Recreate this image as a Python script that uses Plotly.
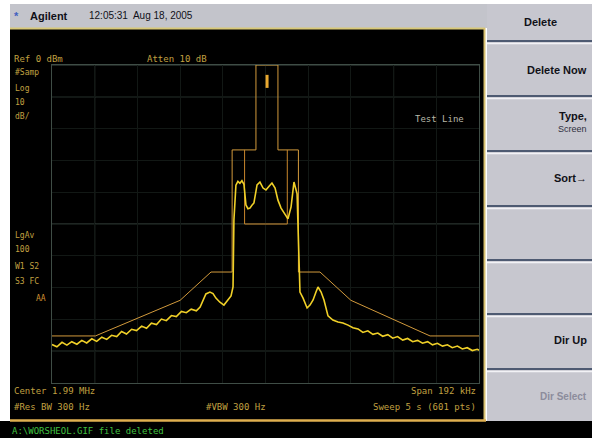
import plotly.graph_objects as go

# ---- measured trace: offset from centre (kHz) and level (dBm) ----
freq_khz = [-96.0, -93.8, -91.5, -89.3, -87.1, -84.8, -82.6, -80.4, -78.1, -75.9,
            -73.6, -71.4, -69.2, -66.9, -64.7, -62.5, -60.2, -58.0, -55.7, -53.5,
            -51.3, -49.0, -46.8, -44.6, -42.3, -40.1, -37.8, -35.6, -33.4, -31.1,
            -29.4, -28.1, -26.8, -25.0, -23.6, -22.3, -20.5, -18.7, -16.9, -15.5,
            -14.6, -14.2, -13.3, -12.4, -11.5, -10.6, -9.7, -8.8, -7.9, -7.0,
            -6.1, -5.2, -3.8, -2.5, -1.1, 0.2, 1.6, 2.9, 4.3, 5.6,
            7.0, 8.8, 10.1, 11.5, 12.8, 14.2, 15.1, 15.5, 16.9, 18.7,
            20.0, 21.4, 22.7, 23.6, 25.0, 26.3, 28.1, 30.3, 32.6, 34.8,
            37.1, 39.3, 41.6, 43.8, 46.0, 48.3, 50.5, 52.7, 55.0, 57.2,
            59.4, 61.7, 63.9, 66.2, 68.4, 70.6, 72.9, 75.1, 77.3, 79.6,
            81.8, 84.0, 86.3, 88.5, 90.7, 93.0, 95.2, 96.0]
level_dbm = [-87.9, -88.6, -87.2, -88.1, -87.0, -87.8, -86.6, -87.4, -86.1, -86.9,
             -85.6, -86.3, -85.0, -85.4, -83.8, -84.6, -83.1, -83.5, -82.1, -82.8,
             -81.2, -81.6, -79.9, -80.4, -78.8, -79.1, -77.5, -77.9, -76.8, -77.3,
             -76.1, -73.9, -72.0, -71.4, -71.9, -73.3, -74.6, -75.5, -74.0, -72.6,
             -69.8, -48.7, -37.8, -36.6, -37.2, -36.4, -37.5, -44.0, -45.2, -45.0,
             -44.1, -43.4, -37.7, -36.8, -38.7, -39.3, -38.1, -37.1, -38.7, -42.5,
             -45.0, -46.9, -48.4, -44.6, -36.8, -40.5, -59.8, -71.4, -73.3, -76.4,
             -75.5, -73.9, -71.4, -69.8, -71.4, -73.9, -78.9, -80.2, -80.8, -81.1,
             -81.8, -82.6, -83.0, -84.1, -83.6, -84.7, -84.3, -85.3, -84.8, -85.9,
             -85.4, -86.5, -86.0, -87.0, -86.6, -87.5, -87.0, -88.0, -87.5, -88.4,
             -88.0, -88.9, -88.4, -89.3, -88.9, -89.8, -89.4, -89.7]

# pilot carrier near the channel centre
pilot_khz = [0.7, 0.7]
pilot_dbm = [-3.1, -7.2]

# upper test line (spectrum mask)
mask_khz = [-96, -76.5, -38.4, -24.5, -15, -15, -4.3, -4.3, 5.6, 5.6,
            14.8, 14.8, 24.5, 38.4, 74, 96]
mask_dbm = [-85.2, -85.2, -74.0, -65.1, -65.1, -26.7, -26.7, 0, 0, -26.7,
            -26.7, -65.1, -65.1, -74.0, -85.2, -85.2]

# lower test line around the channel
lower_khz = [-9.4, -9.4, 9.8, 9.8]
lower_dbm = [-26.7, -50.0, -50.0, -26.7]

# softkey menu
softkeys = ["Delete", "Delete Now", "Type,", "Sort\u2192", "", "", "Dir Up", "Dir Select"]

# display settings
ref_dbm = 0
db_per_div = 10
span_khz = 192
center_label = "Center 1.99 MHz"
span_label = "Span 192 kHz"

W, H = 592, 438
L_PX, R_PX, T_PX, B_PX = 52, 479, 65, 383


def px(x):
    return (x - L_PX) / (R_PX - L_PX)


def py(y):
    return (B_PX - y) / (B_PX - T_PX)


fig = go.Figure()

fig.add_trace(go.Scatter(x=mask_khz, y=mask_dbm, mode="lines",
                         line=dict(color="#d29a3c", width=1), hoverinfo="skip"))
fig.add_trace(go.Scatter(x=lower_khz, y=lower_dbm, mode="lines",
                         line=dict(color="#c8862c", width=1), hoverinfo="skip"))
fig.add_trace(go.Scatter(x=freq_khz, y=level_dbm, mode="lines",
                         line=dict(color="#f0d028", width=1.6)))
fig.add_trace(go.Scatter(x=pilot_khz, y=pilot_dbm, mode="lines",
                         line=dict(color="#e8a830", width=3)))

shapes = []


def rect(x0, y0, x1, y1, color):
    shapes.append(dict(type="rect", xref="paper", yref="paper", layer="below",
                       x0=px(x0), x1=px(x1), y0=py(y1), y1=py(y0),
                       fillcolor=color, line=dict(width=0)))


def hline(x0, x1, y, color, w=1):
    shapes.append(dict(type="line", xref="paper", yref="paper", layer="below",
                       x0=px(x0), x1=px(x1), y0=py(y), y1=py(y),
                       line=dict(color=color, width=w)))


def vline(x, y0, y1, color, w=1):
    shapes.append(dict(type="line", xref="paper", yref="paper", layer="below",
                       x0=px(x), x1=px(x), y0=py(y0), y1=py(y1),
                       line=dict(color=color, width=w)))


# instrument chrome
rect(10, 28, 485, 421, "#000000")
rect(10, 4, 488, 28, "#c3c4cb")
hline(10, 485, 28.5, "#d8c878", 2)
vline(484.5, 28, 421, "#d8c070", 2)
rect(487, 4, 592, 421, "#c7c7cf")
rect(0, 421, 592, 438, "#000000")
hline(10, 486, 420.5, "#e0b050", 2.5)

# softkey separators
for yb in [41, 96, 151, 206, 260, 314, 369]:
    hline(487, 592, yb, "#4e5a72", 2)
    hline(487, 592, yb + 2.5, "#f2f2f6", 1.5)

# brighter graticule lines that stand out on the display
for yv in [0, -10, -50, -90]:
    shapes.append(dict(type="line", xref="paper", yref="y", layer="below",
                       x0=0, x1=1, y0=yv, y1=yv,
                       line=dict(color="#3f4d46", width=1)))
for xv in [-76.8, 57.6]:
    shapes.append(dict(type="line", xref="x", yref="paper", layer="below",
                       x0=xv, x1=xv, y0=0, y1=1,
                       line=dict(color="#3f4d46", width=1)))

ann = []
MONO = "DejaVu Sans Mono"


def txt(x, y, s, color="#c8b048", size=9, anchor="left", family=MONO, weight="normal"):
    ann.append(dict(x=px(x), y=py(y), xref="paper", yref="paper", text=s,
                    showarrow=False, xanchor=anchor, yanchor="middle",
                    font=dict(family=family, size=size, color=color,
                              weight=weight, shadow="none")))


# status bar
txt(12, 16, "*", color="#4060c0", size=11, family="Liberation Sans", weight="bold")
txt(28, 16, "Agilent", color="#101018", size=11, family="Liberation Sans", weight="bold")
txt(87, 16, "12:05:31  Aug 18, 2005", color="#101018", size=10, family="Liberation Sans")

# screen annotations
txt(12, 59, "Ref 0 dBm", color="#c0a040")
txt(145, 59, "Atten 10 dB", color="#c0a040")
txt(13, 72, "#Samp", color="#c0a040", size=8)
txt(13, 88, "Log", color="#c0a040", size=8)
txt(13, 102, "10", color="#c0a040", size=8)
txt(13, 117, "dB/", color="#c0a040", size=8)
txt(13, 235, "LgAv", color="#c0a040", size=8)
txt(13, 249, "100", color="#c0a040", size=8)
txt(13, 266, "W1 S2", color="#c0a040", size=8)
txt(13, 281, "S3 FC", color="#c0a040", size=8)
txt(34, 298, "AA", color="#d09030", size=8)
txt(413, 119, "Test Line", color="#b8b8a8")
txt(12, 391, center_label, color="#c0a040")
txt(478, 391, span_label, color="#c0a040", anchor="right")
txt(12, 407, "#Res BW 300 Hz", color="#c0a040")
txt(204, 407, "#VBW 300 Hz", color="#c0a040")
txt(478, 407, "Sweep 5 s (601 pts)", color="#c0a040", anchor="right")
txt(10, 431, "A:\\WORSHEOL.GIF file deleted", color="#40c040")

# softkey labels
SK = "Liberation Sans"
key_y = [22, 70, 116, 178, 0, 0, 340, 396]
key_col = ["#111118", "#111118", "#111118", "#111118", "", "", "#111118", "#8c8c9c"]
for i, label in enumerate(softkeys):
    if not label:
        continue
    anchor = "center" if i == 0 else "right"
    xk = 540 if i == 0 else 589
    txt(xk, key_y[i], label, color=key_col[i], size=11 if i < 7 else 10,
        family=SK, weight="bold", anchor=anchor)
txt(589, 129, "Screen", color="#303040", size=9, family=SK, anchor="right")

fig.update_layout(
    width=W, height=H,
    margin=dict(l=L_PX, r=W - R_PX, t=T_PX, b=H - B_PX, pad=0),
    paper_bgcolor="#ffffff", plot_bgcolor="#000000",
    showlegend=False, shapes=shapes, annotations=ann,
    xaxis=dict(range=[-span_khz / 2, span_khz / 2], dtick=span_khz / 10, tick0=0,
               showticklabels=False, ticks="", zeroline=False,
               showgrid=True, gridcolor="#121815", gridwidth=1,
               showline=True, linecolor="#3f4d46", linewidth=1, mirror=True),
    yaxis=dict(range=[ref_dbm - 10 * db_per_div, ref_dbm], dtick=db_per_div,
               showticklabels=False, ticks="", zeroline=False,
               showgrid=True, gridcolor="#121815", gridwidth=1,
               showline=True, linecolor="#3f4d46", linewidth=1, mirror=True),
)

fig.write_html("out.html")
